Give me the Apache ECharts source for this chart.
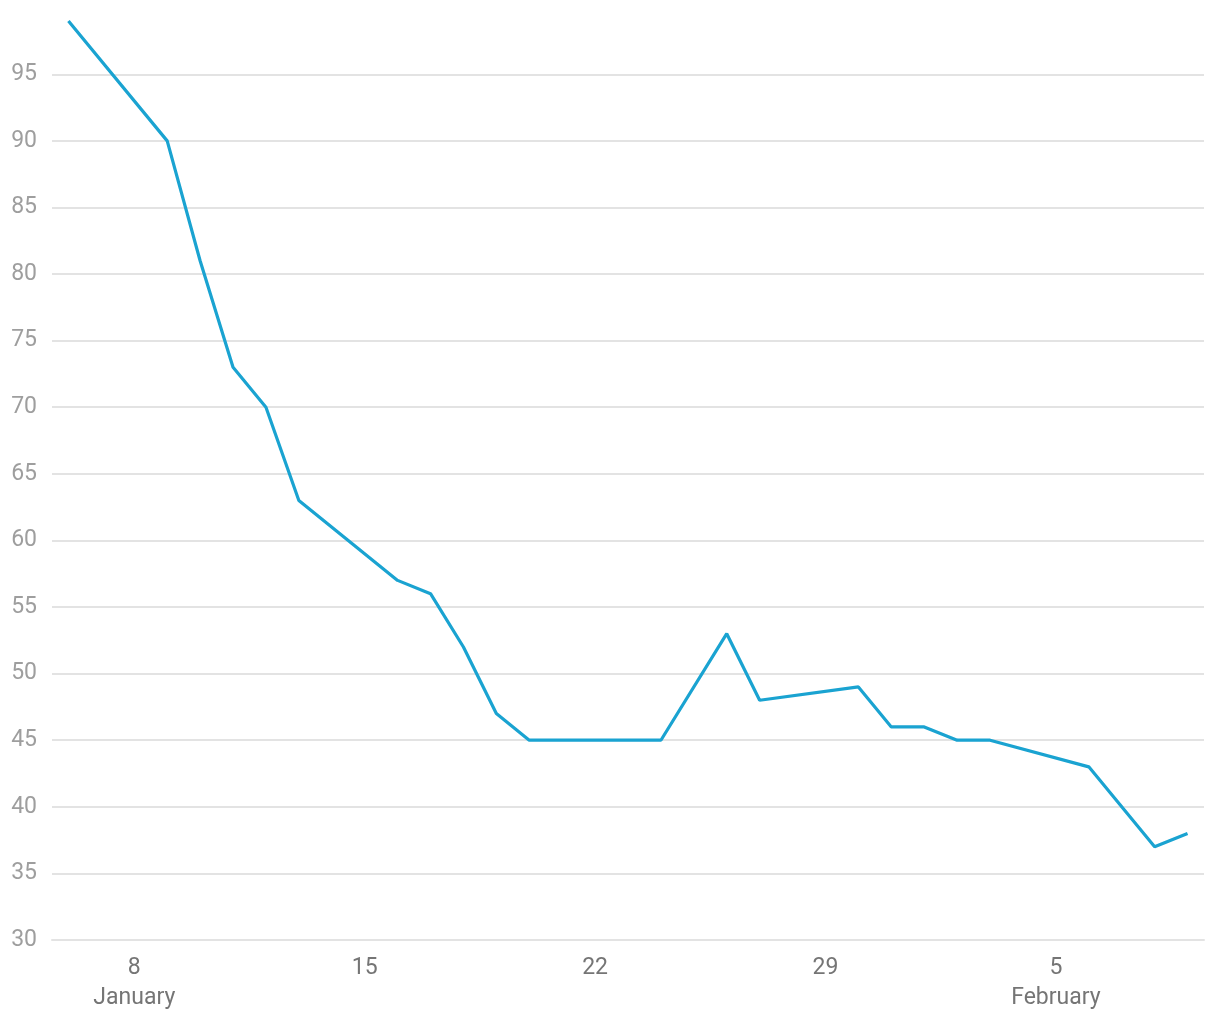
<!DOCTYPE html>
<html>
<head>
<meta charset="utf-8">
<script src="https://cdn.jsdelivr.net/npm/echarts@6/dist/echarts.min.js"></script>
<style>
  html, body { margin: 0; padding: 0; background: #fff; }
  #chart { width: 1220px; height: 1020px; }
</style>
</head>
<body>
<div id="chart"></div>
<script>
// one entry per day, Jan 6 .. Feb 9; null where the line has no vertex
const days = [
    'Jan 6', 'Jan 7', 'Jan 8', 'Jan 9', 'Jan 10', 'Jan 11', 'Jan 12', 'Jan 13', 'Jan 14', 'Jan 15',
    'Jan 16', 'Jan 17', 'Jan 18', 'Jan 19', 'Jan 20', 'Jan 21', 'Jan 22', 'Jan 23', 'Jan 24', 'Jan 25',
    'Jan 26', 'Jan 27', 'Jan 28', 'Jan 29', 'Jan 30', 'Jan 31', 'Feb 1', 'Feb 2', 'Feb 3', 'Feb 4',
    'Feb 5', 'Feb 6', 'Feb 7', 'Feb 8', 'Feb 9'
]
const values = [
    99, null, null, 90, 81, 73, 70, 63, null, null,
    57, 56, 52, 47, 45, null, null, null, 45, null,
    53, 48, null, null, 49, 46, 46, 45, 45, null,
    null, 43, null, 37, 38
]
// days that get a tick label, and the month written under it
const labelDays = { 'Jan 8': 'January', 'Jan 15': '', 'Jan 22': '', 'Jan 29': '', 'Feb 5': 'February' }

const chart = echarts.init(document.getElementById('chart'))

chart.setOption({
    animation: false,
    grid: { left: 52, right: 16, top: 21, bottom: 80 },
    xAxis: {
        type: 'category',
        data: days,
        boundaryGap: true,
        axisLine: { lineStyle: { color: '#e3e3e3', width: 2 } },
        axisTick: { show: false },
        splitLine: { show: false },
        axisLabel: {
            interval: (idx, name) => name in labelDays,
            margin: 13,
            fontFamily: 'Roboto',
            fontSize: 23,
            color: '#757575',
            lineHeight: 30,
            formatter: (name) => {
                const day = name.split(' ')[1]
                const month = labelDays[name]
                return month ? day + '\n' + month : day
            }
        }
    },
    yAxis: {
        type: 'value',
        min: 30,
        max: 99,
        interval: 5,
        axisLine: { show: false },
        axisTick: { show: false },
        axisLabel: {
            showMaxLabel: false,
            margin: 15,
            fontFamily: 'Roboto',
            fontSize: 23,
            color: '#9e9e9e'
        },
        splitLine: {
            showMaxLine: false,
            lineStyle: { color: '#e3e3e3', width: 2 }
        }
    },
    series: [{
        type: 'line',
        data: values,
        connectNulls: true,
        symbol: 'none',
        lineStyle: { color: '#1aa3d1', width: 3.2 }
    }]
})
</script>
</body>
</html>
